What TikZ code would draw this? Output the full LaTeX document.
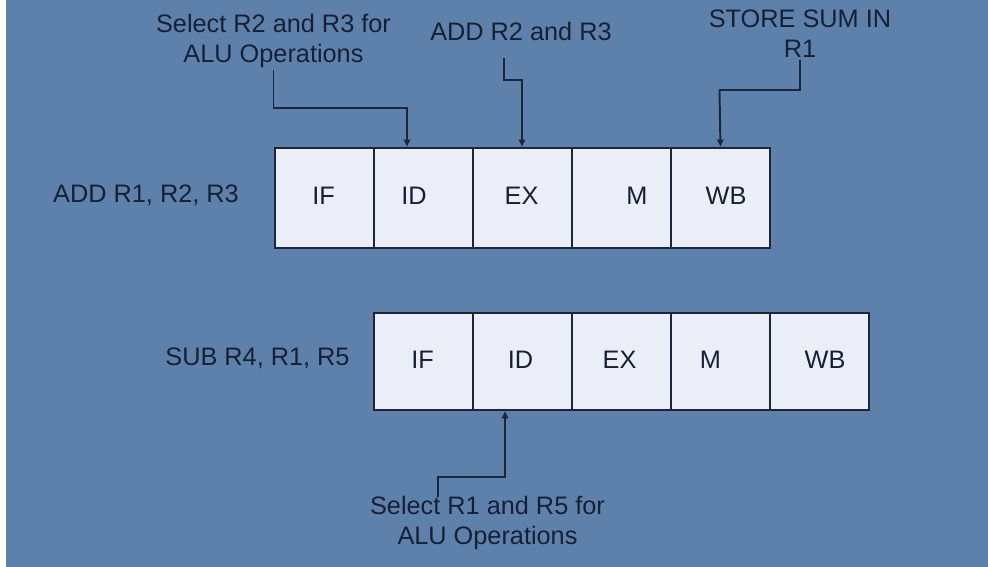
\documentclass[tikz,border=0pt]{standalone}
\usepackage{fontspec}
\setmainfont{Liberation Sans}
\usetikzlibrary{arrows.meta}
\tikzset{>=latex}
\definecolor{bgcol}{RGB}{94,129,171}
\definecolor{cellcol}{RGB}{236,238,247}
\definecolor{ink}{RGB}{22,32,52}
\definecolor{linecol}{RGB}{28,38,58}
\tikzstyle{txt}=[ink,inner sep=1pt,font=\fontsize{14.4}{17}\selectfont,align=center]
\tikzstyle{cell}=[draw=linecol,fill=cellcol,line width=1.1pt,minimum width=1.98cm,anchor=north west,inner sep=0pt]
\tikzstyle{conn}=[linecol,line width=1.1pt,-{Latex[length=4.2pt,width=4.4pt]}]
\def\W{99}

\begin{document}
\begin{tikzpicture}[x=0.02cm,y=-0.02cm]
  % BACKGROUND
  \fill[white] (0,0) rectangle (988,567);
  \fill[bgcol] (6,0) rectangle (988,567);
  \useasboundingbox (0,0) rectangle (988,567);
  
  % ADD R1, R2, R3
  \foreach \n/\t/\d [count=\i from 0] in {if/IF/0,id/ID/-8.5,ex/EX/0,m/M/16.5,wb/WB/6.5}{
    \node[cell,minimum height=2cm] (\n1) at (274+\W*\i,147) {};
    \node[txt] at (274+\W*\i+49.5+\d,196) {\t};
  }
  \node[txt] (add) at (146,195) {ADD R1, R2, R3};
  
  % SUB R4, R1, R5
  \foreach \n/\t/\d [count=\i from 0] in {if/IF/0,id/ID/-1,ex/EX/-1,m/M/-9,wb/WB/6.5}{
    \node[cell,minimum height=1.94cm] (\n2) at (373+\W*\i,312) {};
    \node[txt] at (373+\W*\i+49.5+\d,360) {\t};
  }
  \node[txt] (sub) at (257.5,358) {SUB R4, R1, R5};
  
  % NOTES
  \node[txt] (selA) at (273.5,41) {Select R2 and R3 for\\ALU Operations};
  \node[txt] (addop) at (521,31) {ADD R2 and R3};
  \node[txt] (store) at (800,34) {STORE SUM IN\\R1};
  \node[txt] (selB) at (487.5,523) {Select R1 and R5 for\\ALU Operations};
  
  % ARROWS
  \coordinate (k1) at (407,108);
  \coordinate (s2) at (504,58);
  \coordinate (k2) at (522,80);
  \coordinate (k3) at (719.5,90);
  \coordinate (s4) at (438,497);
  \coordinate (k4) at (505,477);
  \draw[conn] (selA.south) |- (k1) -- (k1 |- id1.north);
  \draw[conn] (s2) |- (k2) -- (k2 |- ex1.north);
  \draw[conn] (store.south) |- (k3) -- (wb1.north);
  \draw[conn] (s4) |- (k4) -- (k4 |- id2.south);
  
\end{tikzpicture}
\end{document}
